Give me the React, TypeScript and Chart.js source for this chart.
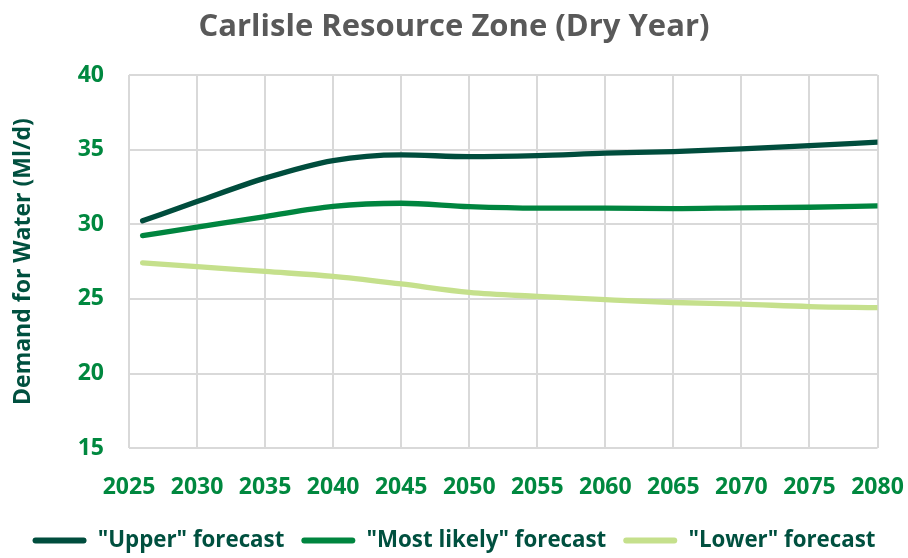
import { useEffect, useRef } from 'react';
import { Chart, registerables } from 'chart.js';

Chart.register(...registerables);

const years = [2026, 2030, 2035, 2040, 2045, 2050, 2055, 2060, 2065, 2070, 2075, 2080];
const upperForecast = [30.23, 31.52, 33.09, 34.27, 34.65, 34.53, 34.6, 34.76, 34.87, 35.05, 35.27, 35.5];
const mostLikelyForecast = [29.24, 29.81, 30.52, 31.2, 31.41, 31.18, 31.08, 31.08, 31.05, 31.1, 31.14, 31.23];
const lowerForecast = [27.42, 27.17, 26.84, 26.51, 26.0, 25.44, 25.17, 24.95, 24.76, 24.65, 24.49, 24.42];
const xTickValues = [2025, 2030, 2035, 2040, 2045, 2050, 2055, 2060, 2065, 2070, 2075, 2080];
const yTickValues = [15, 20, 25, 30, 35, 40];
const seriesNames = ['"Upper" forecast', '"Most likely" forecast', '"Lower" forecast'];
const seriesColors = ['#004D3D', '#00853F', '#C5E08C'];

const FONT = '"Open Sans", "Noto Sans", sans-serif';

export default function App() {
  const ref = useRef<HTMLCanvasElement | null>(null);

  useEffect(() => {
    if (!ref.current) return;
    const seriesValues = [upperForecast, mostLikelyForecast, lowerForecast];
    const legendHeightPlugin = {
      id: 'legendHeight',
      beforeInit(chart: any) {
        const legend = chart.legend;
        if (!legend) return;
        const origFit = legend.fit;
        legend.fit = function () {
          this.maxWidth = 908;
          origFit.call(this);
          this.height = 45.7;
        };
      },
    };
    const chart = new Chart(ref.current, {
      type: 'line',
      data: {
        datasets: seriesNames.map((name, i) => ({
          label: name,
          data: years.map((yr, j) => ({ x: yr, y: seriesValues[i][j] })),
          borderColor: seriesColors[i],
          backgroundColor: seriesColors[i],
          borderWidth: 5.3,
          pointRadius: 0,
          borderCapStyle: 'round' as const,
          cubicInterpolationMode: 'monotone' as const,
          fill: false,
        })),
      },
      options: {
        responsive: false,
        animation: false,
        events: [],
        layout: { padding: 0 },
        plugins: {
          title: {
            display: true,
            text: 'Carlisle Resource Zone (Dry Year)',
            color: '#595959',
            font: { family: FONT, size: 31, weight: 'bold' },
            padding: { top: 8.1, bottom: 29.7 },
          },
          legend: {
            position: 'bottom',
            labels: {
              color: '#00503F',
              font: { family: FONT, size: 22.3, weight: 'bold' },
              boxWidth: 54,
              boxHeight: 6,
              padding: 17,
              useBorderRadius: true,
              borderRadius: 3,
              generateLabels: (c: any) =>
                Chart.defaults.plugins.legend.labels.generateLabels(c).map((it: any) => ({
                  ...it,
                  lineWidth: 0,
                })),
            },
          },
          tooltip: { enabled: false },
        },
        scales: {
          x: {
            type: 'linear',
            min: 2025,
            max: 2080,
            afterBuildTicks: (axis: any) => {
              axis.ticks = xTickValues.map((v) => ({ value: v }));
            },
            afterFit: (axis: any) => {
              axis.height = 64.1;
              axis.paddingLeft = 0;
              axis.paddingRight = 30.5;
            },
            ticks: {
              color: '#00883F',
              font: { family: FONT, size: 23, weight: 'bold' },
              padding: 25.7,
              maxRotation: 0,
              autoSkip: false,
              callback: (v: any) => String(v),
            },
            grid: { color: '#D9D9D9', lineWidth: 2, drawTicks: false },
            border: { display: false },
          },
          y: {
            min: 15,
            max: 40,
            afterBuildTicks: (axis: any) => {
              axis.ticks = yTickValues.map((v) => ({ value: v }));
            },
            afterFit: (axis: any) => {
              axis.width = 129;
            },
            ticks: {
              color: '#00883F',
              font: { family: FONT, size: 23, weight: 'bold' },
              padding: 25,
              callback: (v: any) => String(v),
            },
            grid: { color: '#D9D9D9', lineWidth: 2, drawTicks: false },
            border: { display: false },
            title: {
              display: true,
              text: 'Demand for Water (Ml/d)',
              color: '#00503F',
              font: { family: FONT, size: 23, weight: 'bold' },
              padding: { top: 9.2, bottom: 10 },
            },
          },
        },
      },
      plugins: [legendHeightPlugin],
    } as any);
    return () => chart.destroy();
  }, []);

  return (
    <div style={{ position: 'fixed', left: 0, top: 0, width: 908, height: 558, background: '#fff' }}>
      <canvas ref={ref} width={908} height={558} style={{ display: 'block' }} />
    </div>
  );
}
